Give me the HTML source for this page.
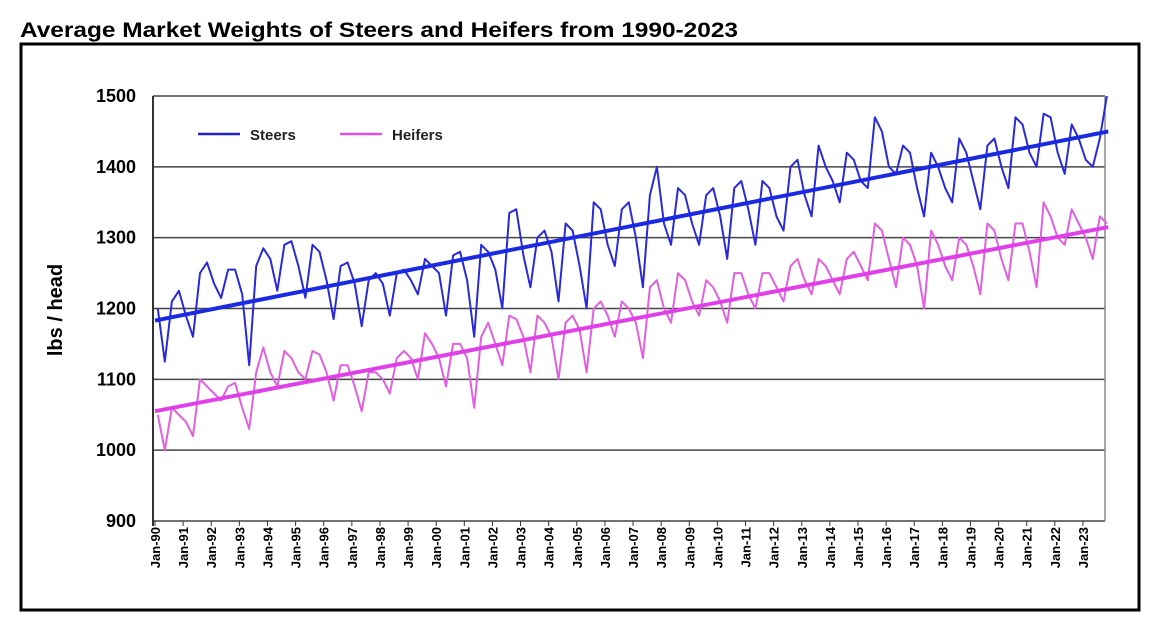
<!DOCTYPE html>
<html><head><meta charset="utf-8"><style>
body{margin:0;background:#fff;width:1158px;height:635px;overflow:hidden;font-family:"Liberation Sans",Arial,sans-serif}
</style></head><body>
<svg width="1158" height="635">
<text x="20" y="37" font-size="21" font-weight="bold" textLength="718" lengthAdjust="spacingAndGlyphs">Average Market Weights of Steers and Heifers from 1990-2023</text>
<rect x="21" y="44" width="1118" height="566" fill="none" stroke="#000" stroke-width="3"/>
<g id="grid"></g>
<g id="ylabels" font-size="18" font-weight="bold" text-anchor="end"></g>
<g id="xlabels" font-size="13" font-weight="bold"></g>
<text transform="translate(62,310) rotate(-90)" text-anchor="middle" font-size="20" font-weight="bold">lbs / head</text>
<g id="series"></g>
<g>
<line x1="198" y1="134" x2="240" y2="134" stroke="#1f1fd0" stroke-width="2.5"/>
<text x="250" y="140" font-size="15" font-weight="bold" fill="#222">Steers</text>
<line x1="340" y1="134" x2="382" y2="134" stroke="#e050e0" stroke-width="2.5"/>
<text x="392" y="140" font-size="15" font-weight="bold" fill="#222">Heifers</text>
</g>
</svg>
<script>
const yTicks=[900,1000,1100,1200,1300,1400,1500];
const years=[90,91,92,93,94,95,96,97,98,99,"00","01","02","03","04","05","06","07","08","09",10,11,12,13,14,15,16,17,18,19,20,21,22,23];
const steers=[1200,1125,1210,1225,1190,1160,1250,1265,1235,1215,1255,1255,1220,1120,1260,1285,1270,1225,1290,1295,1260,1215,1290,1280,1240,1185,1260,1265,1235,1175,1240,1250,1235,1190,1250,1255,1240,1220,1270,1260,1250,1190,1275,1280,1240,1160,1290,1280,1255,1200,1335,1340,1275,1230,1300,1310,1280,1210,1320,1310,1260,1200,1350,1340,1290,1260,1340,1350,1300,1230,1360,1400,1320,1290,1370,1360,1320,1290,1360,1370,1330,1270,1370,1380,1340,1290,1380,1370,1330,1310,1400,1410,1360,1330,1430,1400,1380,1350,1420,1410,1380,1370,1470,1450,1400,1390,1430,1420,1370,1330,1420,1400,1370,1350,1440,1420,1380,1340,1430,1440,1400,1370,1470,1460,1420,1400,1475,1470,1420,1390,1460,1440,1410,1400,1440,1500];
const heifers=[1050,1000,1060,1050,1040,1020,1100,1090,1080,1070,1090,1095,1060,1030,1110,1145,1110,1090,1140,1130,1110,1100,1140,1135,1110,1070,1120,1120,1090,1055,1110,1110,1100,1080,1130,1140,1130,1100,1165,1150,1130,1090,1150,1150,1130,1060,1160,1180,1150,1120,1190,1185,1160,1110,1190,1180,1160,1100,1180,1190,1170,1110,1200,1210,1190,1160,1210,1200,1180,1130,1230,1240,1200,1180,1250,1240,1210,1190,1240,1230,1210,1180,1250,1250,1220,1200,1250,1250,1230,1210,1260,1270,1240,1220,1270,1260,1240,1220,1270,1280,1260,1240,1320,1310,1270,1230,1300,1290,1260,1200,1310,1290,1260,1240,1300,1290,1260,1220,1320,1310,1270,1240,1320,1320,1280,1230,1350,1330,1300,1290,1340,1320,1300,1270,1330,1320];
const steersTrend=[1183,1450];
const heifersTrend=[1055,1315];
const NS="http://www.w3.org/2000/svg";
const X0=155,PX=28.12,Y0=521,PY=0.7083;
const xs=t=>X0+PX*t, ys=v=>Y0-(v-900)*PY;
function mk(tag,attrs,parent){const e=document.createElementNS(NS,tag);for(const k in attrs)e.setAttribute(k,attrs[k]);parent.appendChild(e);return e;}
const grid=document.getElementById('grid'),yl=document.getElementById('ylabels'),xl=document.getElementById('xlabels'),ser=document.getElementById('series');
yTicks.forEach(v=>{
 const l=mk('line',{x1:153,x2:1105,y1:ys(v),y2:ys(v),stroke:'#444','stroke-width':1.5},grid);
 
 
 const t=mk('text',{x:136,y:ys(v)+6},yl);t.textContent=v;
 
 
});
const ax=mk('line',{x1:153,x2:153,y1:ys(1500),y2:ys(900)+5,stroke:'#333','stroke-width':2},grid);


mk('line',{x1:1105,x2:1105,y1:ys(1500),y2:ys(900),stroke:'#888','stroke-width':1.5},grid);
years.forEach((y,i)=>{
 const x=xs(i);
 mk('line',{x1:x,x2:x,y1:Y0,y2:Y0+5,stroke:'#333'},grid);
 const t=mk('text',{transform:`translate(${x+5},${Y0+6}) rotate(-90)`,'text-anchor':'end'},xl);
 t.textContent='Jan-'+y;
 
 
});
function line(data,color,name){
 const d=data.map((v,i)=>(i?'L':'M')+xs(i*0.25+0.1).toFixed(1)+','+ys(v).toFixed(1)).join('');
 const p=mk('path',{d,fill:'none',stroke:color,'stroke-width':2,'stroke-linejoin':'round'},ser);
 
 
}
function trend(tr,color,name){
 const p=mk('line',{x1:xs(0),y1:ys(tr[0]),x2:xs(33.9),y2:ys(tr[1]),stroke:color,'stroke-width':4},ser);
 
 
}
line(steers,'#2a2ad8','steers-line');
line(heifers,'#e060e0','heifers-line');
trend(steersTrend,'#1a2ae0','steers-trendline');
trend(heifersTrend,'#e040e8','heifers-trendline');
</script>
</body></html>
